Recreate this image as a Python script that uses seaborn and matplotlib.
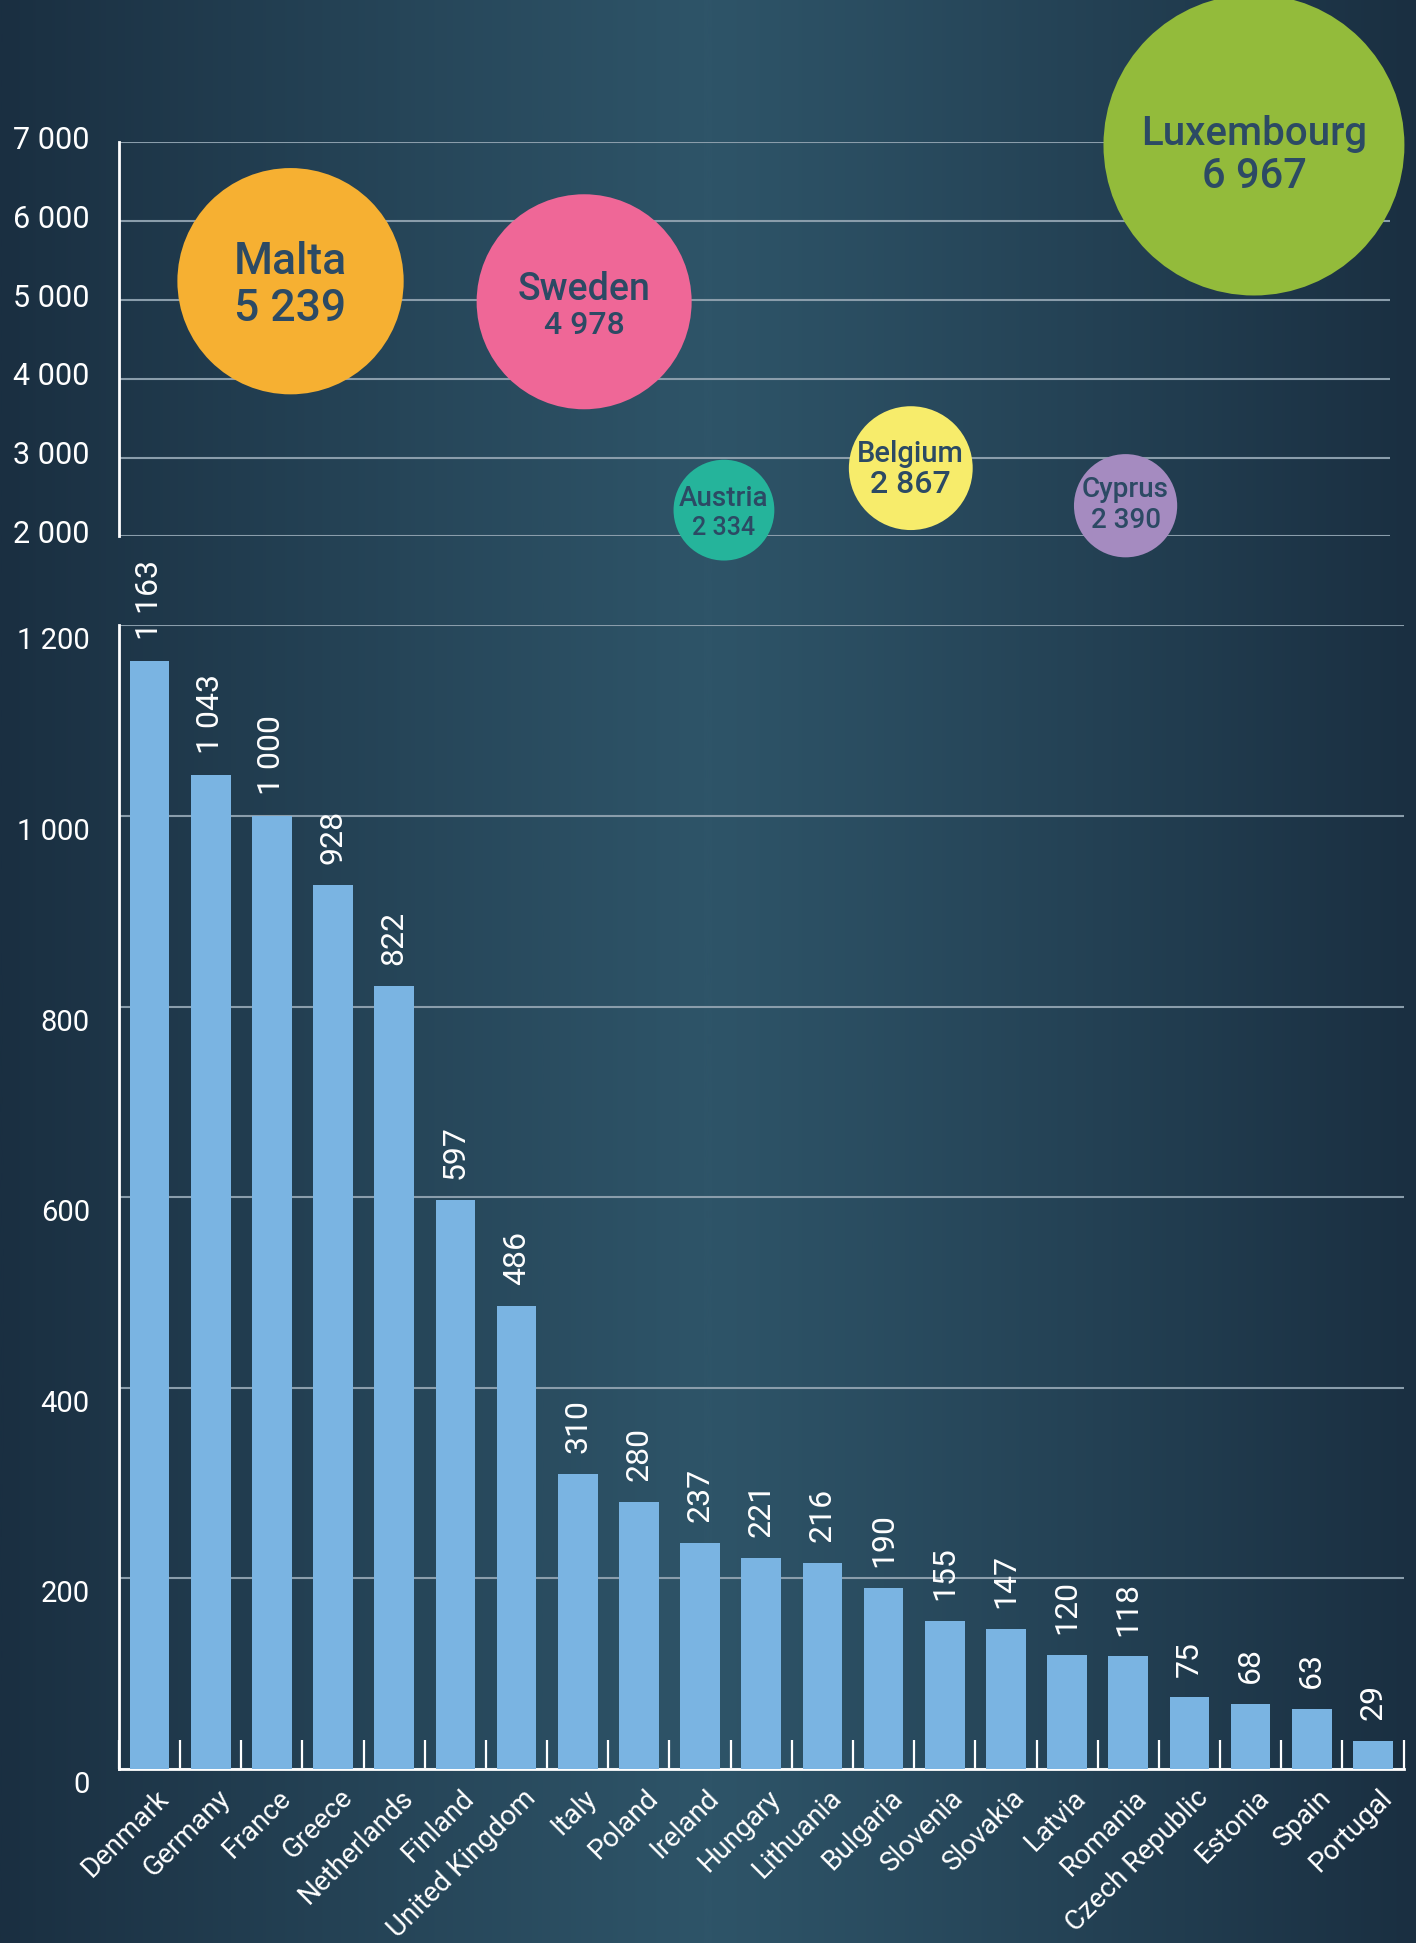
import numpy as np
import pandas as pd
import matplotlib
matplotlib.use("Agg")
import matplotlib.pyplot as plt
import matplotlib.transforms as mtransforms
from matplotlib.colors import LinearSegmentedColormap
import seaborn as sns

# countries shown as bars (bottom panel)
countries = ["Denmark", "Germany", "France", "Greece", "Netherlands", "Finland",
             "United Kingdom", "Italy", "Poland", "Ireland", "Hungary", "Lithuania",
             "Bulgaria", "Slovenia", "Slovakia", "Latvia", "Romania", "Czech Republic",
             "Estonia", "Spain", "Portugal"]
values = [1163, 1043, 1000, 928, 822, 597, 486, 310, 280, 237, 221, 216,
          190, 155, 147, 120, 118, 75, 68, 63, 29]

# countries shown as bubbles (top panel)
big_countries = ["Malta", "Sweden", "Austria", "Belgium", "Cyprus", "Luxembourg"]
big_values = [5239, 4978, 2334, 2867, 2390, 6967]

top_ticks = [2000, 3000, 4000, 5000, 6000, 7000]
bottom_ticks = [0, 200, 400, 600, 800, 1000, 1200]

# layout / style of the bubbles
big_colors = ["#f6b032", "#ef6797", "#25b49b", "#f7ec6b", "#a58bc0", "#93bb3b"]
bubble_x = [0.135, 0.366, 0.476, 0.623, 0.792, 0.893]
name_size = [32, 27, 20, 21, 20, 29]
val_size = [32, 23, 18, 23, 20, 30]
name_dy = [14, 9, 8.5, 10.5, 12, 8]
val_dy = [-20, -17, -13, -12, -10.5, -23]

bar_color = "#7ab4e2"
grid_color = "#8a9dab"
bubble_text = "#2c4a64"
DPI = 100


def fmt(v):
    return f"{v:,}".replace(",", " ")


sns.set_style("white")
plt.rcParams["font.family"] = ["Roboto", "DejaVu Sans"]

fig = plt.figure(figsize=(14.16, 19.43), dpi=DPI)

# background gradient
bg = fig.add_axes([0, 0, 1, 1], zorder=-10)
grad = np.abs(np.linspace(-1, 1, 600)) ** 1.1
cmap = LinearSegmentedColormap.from_list("bg", ["#2e5468", "#1a2f41"])
bg.imshow(grad[None, :], aspect="auto", cmap=cmap, extent=[0, 1, 0, 1])
bg.axis("off")

# ---- bottom: bars ----
ax = fig.add_axes([0.084, 0.0896, 0.9072, 0.5885])
ax.set_facecolor("none")
df = pd.DataFrame({"country": countries, "value": values})
sns.barplot(data=df, x="country", y="value", color=bar_color, saturation=1,
            width=0.65, linewidth=0, ax=ax, zorder=3)
ax.bar_label(ax.containers[0], labels=[fmt(v) for v in values], rotation=90,
             padding=15, color="white", fontsize=23)

ax.set_xlim(-0.5, len(countries) - 0.5)
ax.set_ylim(0, 1200)
ax.set_yticks(bottom_ticks)
ax.set_yticklabels([fmt(v) for v in bottom_ticks])
ax.set_xticks(np.arange(-0.5, len(countries), 1), minor=True)
ax.set_xlabel("")
ax.set_ylabel("")
ax.yaxis.grid(True, color=grid_color, lw=1.5)
ax.set_axisbelow(True)
sns.despine(ax=ax)
for s in ["left", "bottom"]:
    ax.spines[s].set_color("white")
    ax.spines[s].set_linewidth(2)
ax.tick_params(axis="y", length=0, pad=21, labelsize=21, labelcolor="white")
ax.tick_params(axis="x", which="major", length=0, pad=0, labelsize=20,
               labelcolor="white")
ax.tick_params(axis="x", which="minor", direction="in", length=21, width=1.6,
               color="white", bottom=True)
off_x = mtransforms.ScaledTranslation(0.15, -0.25, fig.dpi_scale_trans)
for lbl in ax.get_xticklabels():
    lbl.set_rotation(45)
    lbl.set_ha("right")
    lbl.set_va("center")
    lbl.set_rotation_mode("anchor")
    lbl.set_transform(lbl.get_transform() + off_x)
off_y = mtransforms.ScaledTranslation(0, -0.13, fig.dpi_scale_trans)
for lbl in ax.get_yticklabels():
    lbl.set_transform(lbl.get_transform() + off_y)

# ---- top: bubbles ----
ax2 = fig.add_axes([0.084, 0.7239, 0.8976, 0.2028])
ax2.set_facecolor("none")
# radius grows linearly with the value
sizes = [(0.0311 * v) ** 2 for v in big_values]
sns.scatterplot(x=bubble_x, y=big_values, hue=big_countries,
                palette=dict(zip(big_countries, big_colors)), s=sizes,
                linewidth=0, legend=False, ax=ax2, zorder=3, clip_on=False)
for i, name in enumerate(big_countries):
    ax2.annotate(name, (bubble_x[i], big_values[i]), xytext=(0, name_dy[i]),
                 textcoords="offset points", ha="center", va="center",
                 fontsize=name_size[i], fontweight="medium", color=bubble_text,
                 zorder=4, annotation_clip=False)
    ax2.annotate(fmt(big_values[i]), (bubble_x[i], big_values[i]),
                 xytext=(0, val_dy[i]), textcoords="offset points", ha="center",
                 va="center", fontsize=val_size[i], fontweight="medium",
                 color=bubble_text, zorder=4, annotation_clip=False)

ax2.set_xlim(0, 1)
ax2.set_ylim(2000, 7000)
ax2.set_xticks([])
ax2.set_yticks(top_ticks)
ax2.set_yticklabels([fmt(v) for v in top_ticks])
ax2.yaxis.grid(True, color=grid_color, lw=1.5)
ax2.set_axisbelow(True)
sns.despine(ax=ax2, bottom=True)
ax2.spines["left"].set_color("white")
ax2.spines["left"].set_linewidth(2)
ax2.tick_params(axis="y", length=0, pad=21, labelsize=22, labelcolor="white")
off_t = mtransforms.ScaledTranslation(0, 0.05, fig.dpi_scale_trans)
for lbl in ax2.get_yticklabels():
    lbl.set_transform(lbl.get_transform() + off_t)

fig.savefig("out.png", dpi=DPI)
